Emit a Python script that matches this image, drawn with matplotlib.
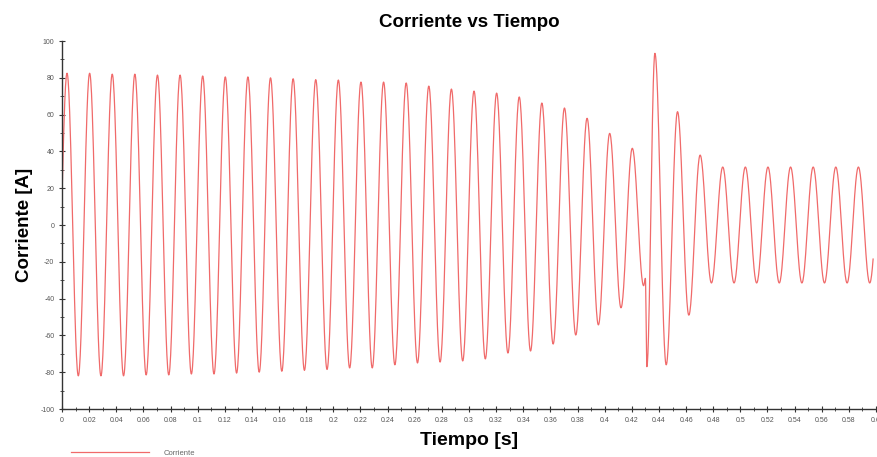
import numpy as np
import matplotlib.pyplot as plt
from matplotlib.ticker import MultipleLocator, FuncFormatter

# signal: 60 Hz, one value per peak / trough
freq = 60.0
t_first_peak = 0.0037
t_end = 0.598

peak_vals = [82.5, 82.5, 82, 82, 81.5, 81.5, 81, 80.5, 80.5, 80, 79.5, 79,
             78.8, 77.7, 77.7, 77.2, 75.5, 73.9, 72.8, 71.7, 69.6, 66.3, 63.6, 58,
             49.8, 41.7, 93.3, 61.6, 38, 31.5, 31.5, 31.5, 31.5, 31.5, 31.5, 31.5]
trough_vals = [-82, -82, -82, -81.5, -81.5, -81, -81, -80.5, -80, -79.5, -79, -78.5,
               -77.7, -77.7, -76, -75, -74.5, -73.9, -72.8, -69.6, -68.5, -64.7,
               -59.8, -54.3, -45, -33, -76, -49,
               -31.5, -31.5, -31.5, -31.5, -31.5, -31.5, -31.5, -31.5]

# fault transient after trough 25
glitch_idx = 25
glitch_t = [0.4300, 0.4311]
glitch_v = [-29, -77]

# build list of extrema
half = 0.5 / freq
ext_t = [t_first_peak - half]
ext_v = [-82]
for i, (p, tr) in enumerate(zip(peak_vals, trough_vals)):
    tp = t_first_peak + i / freq
    ext_t += [tp, tp + half]
    ext_v += [p, tr]
    if i == glitch_idx:
        ext_t += glitch_t
        ext_v += glitch_v
ext_t.append(ext_t[-1] + half)
ext_v.append(31.5)

tt, vv = [], []
for k in range(len(ext_t) - 1):
    s = np.linspace(0, 1, 30, endpoint=False)
    tt.append(ext_t[k] + (ext_t[k + 1] - ext_t[k]) * s)
    vv.append(ext_v[k] + (ext_v[k + 1] - ext_v[k]) * (1 - np.cos(np.pi * s)) / 2)
t = np.concatenate(tt)
i_val = np.concatenate(vv)
mask = (t >= 0) & (t <= t_end)
t, i_val = t[mask], i_val[mask]

plt.rcParams['font.family'] = ['Liberation Sans', 'DejaVu Sans']

fig = plt.figure(figsize=(8.77, 4.57), dpi=100)
ax = fig.add_axes([62 / 877, 1 - 409 / 457, (876 - 62) / 877, (409 - 41) / 457])

line, = ax.plot(t, i_val, color='#f06a6a', lw=0.9)

ax.set_xlim(0, 0.6)
ax.set_ylim(-100, 100)
ax.xaxis.set_major_locator(MultipleLocator(0.02))
ax.xaxis.set_minor_locator(MultipleLocator(0.01))
ax.yaxis.set_major_locator(MultipleLocator(20))
ax.yaxis.set_minor_locator(MultipleLocator(10))
ax.xaxis.set_major_formatter(FuncFormatter(lambda v, p: f"{v:g}"))
ax.yaxis.set_major_formatter(FuncFormatter(lambda v, p: f"{v:g}"))

for side in ['top', 'right']:
    ax.spines[side].set_visible(False)
for side in ['left', 'bottom']:
    ax.spines[side].set_color('#333333')
    ax.spines[side].set_linewidth(1.0)

ax.tick_params(which='major', direction='inout', length=5, width=0.8,
               labelsize=5, labelcolor='#555555', color='#333333', pad=3)
ax.tick_params(which='minor', direction='inout', length=3, width=0.6, color='#333333')

ax.set_title("Corriente vs Tiempo", fontsize=13.5, fontweight='bold', pad=10)
ax.set_ylabel("Corriente [A]", fontsize=13.5, fontweight='bold', labelpad=5)
ax.set_xlabel("Tiempo [s]", fontsize=14, fontweight='bold', labelpad=6)

fig.legend(handles=[line], labels=["Corriente"], loc='center left',
           bbox_to_anchor=(64 / 877, 1 - 453 / 457), frameon=False,
           handlelength=10.2, handletextpad=2.0, fontsize=5.5, labelcolor='#666666')

fig.savefig("out.png", dpi=100)
